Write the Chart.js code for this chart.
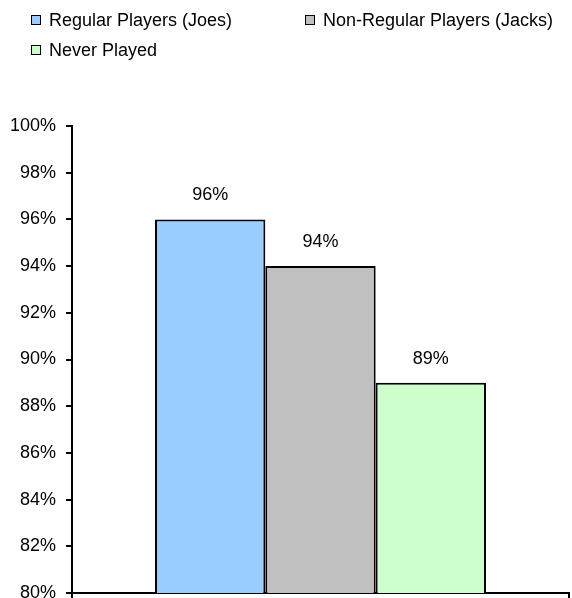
<!DOCTYPE html>
<html>
<head>
<meta charset="utf-8">
<script src="https://cdn.jsdelivr.net/npm/chart.js@4/dist/chart.umd.min.js"></script>
<style>
  html, body { margin: 0; padding: 0; background: #fff; }
  #wrap { position: relative; width: 572px; height: 598px; }
  #legend { position: absolute; left: 0; top: 0; width: 572px; height: 70px;
            font: 18px "Liberation Sans", Arial, sans-serif; color: #000; }
  .li { position: absolute; display: flex; align-items: center; height: 20px; white-space: nowrap; }
  .li i { display: inline-block; width: 8px; height: 8px; border: 1.5px solid #000; margin-right: 8px; }
</style>
</head>
<body>
<div id="wrap">
  <canvas id="chart"></canvas>
  <div id="legend"></div>
</div>
<script>
// ── data ─────────────────────────────────────────────
const categories   = [''];
const seriesNames  = ['Regular Players (Joes)', 'Non-Regular Players (Jacks)', 'Never Played'];
const seriesValues = [96, 94, 89];
const seriesColors = ['#99ccff', '#c0c0c0', '#ccffcc'];
const yMin = 80, yMax = 100, yStep = 2;

// legend slots (left, top) — Excel-style two-column grid
const legendSlots = [[31, 10], [305, 10], [31, 40]];

Chart.defaults.font.family = '"Liberation Sans", Arial, sans-serif';
Chart.defaults.font.size = 18;
Chart.defaults.color = '#000';

// value labels above each bar
const valueLabels = {
  id: 'valueLabels',
  afterDatasetsDraw(chart) {
    const {ctx} = chart;
    ctx.save();
    ctx.font = '18px "Liberation Sans", Arial, sans-serif';
    ctx.fillStyle = '#000';
    ctx.textAlign = 'center';
    ctx.textBaseline = 'middle';
    chart.data.datasets.forEach((ds, i) => {
      chart.getDatasetMeta(i).data.forEach((bar, j) => {
        ctx.fillText(ds.data[j] + '%', bar.x, bar.y - 24);
      });
    });
    ctx.restore();
  }
};

const chart = new Chart(document.getElementById('chart').getContext('2d'), {
  type: 'bar',
  data: {
    labels: categories,
    datasets: seriesNames.map((name, i) => ({
      label: name,
      data: [seriesValues[i]],
      backgroundColor: seriesColors[i],
      borderColor: '#000',
      borderWidth: 2,
      barPercentage: 1,
      categoryPercentage: 0.666,
    })),
  },
  options: {
    responsive: true, maintainAspectRatio: false, animation: false,
    layout: {padding: {top: 126, right: 3, left: 0, bottom: 0}},
    plugins: {legend: {display: false}, tooltip: {enabled: false}},
    scales: {
      x: {
        grid: {drawOnChartArea: false, color: '#000', tickLength: 5, lineWidth: 2, offset: true},
        border: {color: '#000', width: 2},
        ticks: {display: false},
      },
      y: {
        min: yMin, max: yMax,
        grid: {drawOnChartArea: false, color: '#000', tickLength: 6, lineWidth: 2},
        border: {color: '#000', width: 2},
        ticks: {stepSize: yStep, padding: 10, callback: v => v + '%'},
        afterFit: s => { s.width = 72; s.paddingBottom = 0; },
      },
    },
  },
  plugins: [valueLabels],
});

// HTML legend built from the chart's datasets
document.getElementById('legend').innerHTML = chart.data.datasets.map((ds, i) => `
  <div class="li" style="left:${legendSlots[i][0]}px;top:${legendSlots[i][1]}px">
    <i style="background:${ds.backgroundColor}"></i>${ds.label}
  </div>`).join('');
</script>
</body>
</html>
